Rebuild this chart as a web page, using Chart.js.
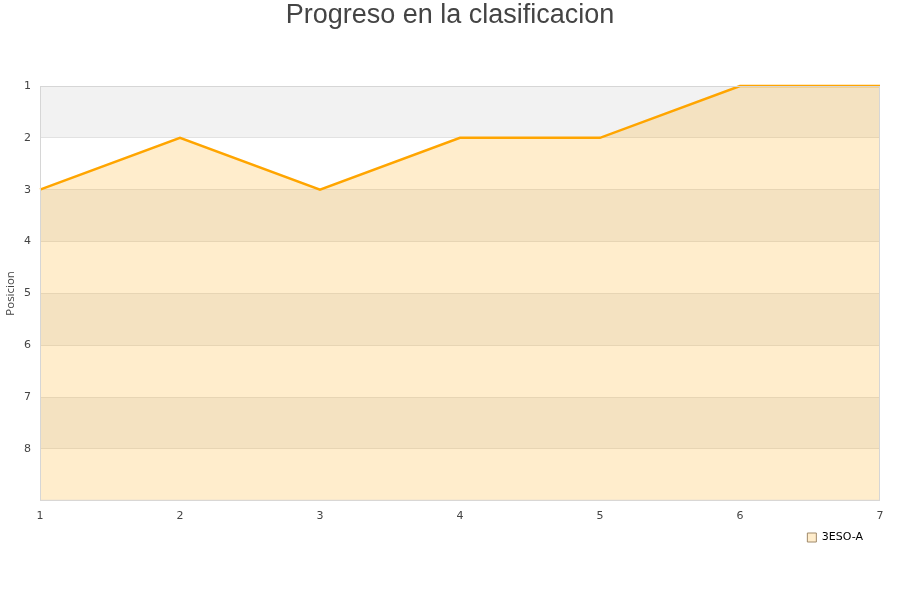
<!DOCTYPE html>
<html>
<head>
<meta charset="utf-8">
<script src="https://cdn.jsdelivr.net/npm/chart.js@4"></script>
<style>
html,body{margin:0;padding:0;background:#fff;}
#wrap{width:900px;height:600px;}
</style>
</head>
<body>
<div id="wrap"><canvas id="c" width="900" height="600"></canvas></div>
<script>
const jornadas = [1, 2, 3, 4, 5, 6, 7];
const posiciones = [3, 2, 3, 2, 2, 1, 1];
const serieNombre = "3ESO-A";
const titulo = "Progreso en la clasificacion";
const ejeY = "Posicion";
const yMin = 1, yMax = 9;

const bandsPlugin = {
  id: 'bands',
  afterLayout(chart) {
    const lg = chart.legend;
    if (lg) { lg.top -= 9; lg.bottom -= 9; }
  },
  beforeDraw(chart) {
    const {ctx, chartArea: a, scales: {y}} = chart;
    ctx.save();
    for (let v = yMin; v < yMax; v++) {
      const p1 = y.getPixelForValue(v), p2 = y.getPixelForValue(v + 1);
      ctx.fillStyle = (v % 2 === 1) ? '#f2f2f2' : '#ffffff';
      ctx.fillRect(a.left, Math.min(p1, p2), a.right - a.left, Math.abs(p2 - p1));
    }
    ctx.restore();
  },
  afterDraw(chart) {
    const {ctx, chartArea: a} = chart;
    ctx.save();
    ctx.strokeStyle = '#d6d6d6';
    ctx.lineWidth = 1;
    ctx.strokeRect(a.left + 0.5, a.top + 0.5, a.right - a.left - 1, a.bottom - a.top - 1);
    // title
    ctx.fillStyle = '#444';
    ctx.font = '27px "Liberation Sans"';
    ctx.textAlign = 'center';
    ctx.textBaseline = 'middle';
    ctx.fillText(titulo, chart.width / 2, 16);
    // y axis title
    ctx.translate(11, (a.top + a.bottom) / 2);
    ctx.rotate(-Math.PI / 2);
    ctx.font = '11.5px "Open Sans"';
    ctx.fillText(ejeY, 0, 0);
    ctx.restore();
  }
};

new Chart(document.getElementById('c'), {
  type: 'line',
  data: {
    datasets: [{
      label: serieNombre,
      data: jornadas.map((j, i) => ({x: j, y: posiciones[i]})),
      borderColor: '#ffa500',
      backgroundColor: 'rgba(255,165,0,0.2)',
      borderWidth: 2.5,
      pointRadius: 0,
      tension: 0,
      clip: 3,
      fill: {value: yMax}
    }]
  },
  options: {
    responsive: false,
    animation: false,
    layout: {padding: {left: 0, right: 20, top: 86, bottom: 38}},
    plugins: {
      title: {display: false},
      legend: {
        position: 'bottom',
        align: 'end',
        labels: {
          boxWidth: 9,
          boxHeight: 9,
          color: '#000',
          font: {family: 'DejaVu Sans', size: 11},
          padding: 17,
          generateLabels(chart) {
            return [{
              text: serieNombre,
              fillStyle: 'rgba(255,165,0,0.2)',
              strokeStyle: '#a08a6a',
              lineWidth: 1,
              datasetIndex: 0
            }];
          }
        }
      },
      tooltip: {enabled: false}
    },
    scales: {
      x: {
        type: 'linear',
        min: 1, max: 7,
        grid: {display: false},
        border: {display: false},
        ticks: {stepSize: 1, color: '#444', font: {family: 'DejaVu Sans', size: 11}, padding: 1}
      },
      y: {
        type: 'linear',
        reverse: true,
        min: yMin, max: yMax,
        border: {display: false},
        grid: {color: '#e2e2e2', drawTicks: false},
        ticks: {
          stepSize: 1, color: '#444', font: {family: 'DejaVu Sans', size: 11}, padding: 9,
          callback: v => (v === yMax ? '' : v)
        },
        afterFit(s) { s.width = 40; }
      }
    }
  },
  plugins: [bandsPlugin]
});
</script>
</body>
</html>
